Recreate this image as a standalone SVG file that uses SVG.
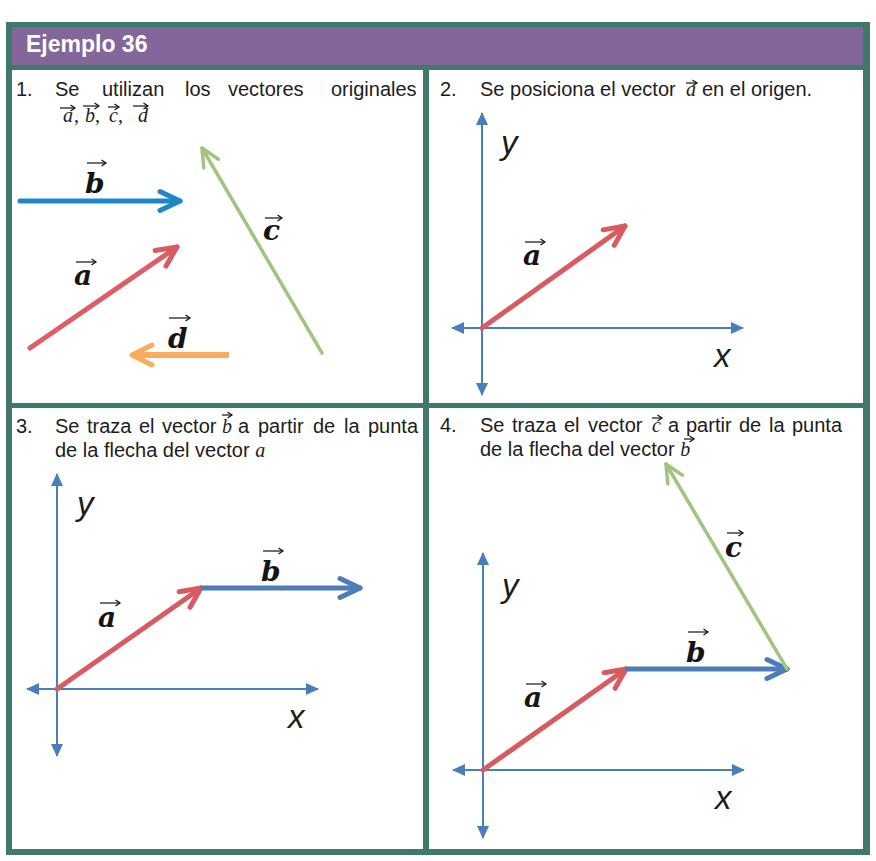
<svg xmlns="http://www.w3.org/2000/svg" width="876" height="861" viewBox="0 0 876 861">
<style>
.t{font-family:"Liberation Sans",Arial,sans-serif;font-size:20px;fill:#1c1c1c}
.m{font-family:"Liberation Serif","Times New Roman",serif;font-style:italic;font-size:20px;fill:#1c1c1c}
.lbl{font-family:"DejaVu Serif",serif;font-weight:bold;font-style:italic;font-size:28px;fill:#141414}
.ax{font-family:"Liberation Sans",Arial,sans-serif;font-style:italic;font-size:33px;fill:#1c1c1c}
.ov{stroke:#111;stroke-width:1.2;fill:none;marker-end:url(#hK)}
.axis{stroke:#4A7EBB;stroke-width:2;fill:none;marker-start:url(#hAx);marker-end:url(#hAx)}
.vr{stroke:#D85B62;stroke-width:5;stroke-linecap:round;fill:none;marker-end:url(#hR)}
.vb{stroke:#4D7DB8;stroke-width:5;stroke-linecap:round;fill:none;marker-end:url(#hB)}
.vg{stroke:#A2C480;stroke-width:3.5;stroke-linecap:round;fill:none;marker-end:url(#hG)}
</style>
<defs>
<marker id="hR" markerUnits="userSpaceOnUse" orient="auto" markerWidth="30" markerHeight="30" refX="0" refY="0" overflow="visible"><path d="M-20,-9.5 L0,0 L-20,9.5" fill="none" stroke="#D85B62" stroke-width="5" stroke-linecap="round" stroke-linejoin="round"/></marker>
<marker id="hB" markerUnits="userSpaceOnUse" orient="auto" markerWidth="30" markerHeight="30" refX="0" refY="0" overflow="visible"><path d="M-20,-9.5 L0,0 L-20,9.5" fill="none" stroke="#4D7DB8" stroke-width="5" stroke-linecap="round" stroke-linejoin="round"/></marker>
<marker id="hB1" markerUnits="userSpaceOnUse" orient="auto" markerWidth="30" markerHeight="30" refX="0" refY="0" overflow="visible"><path d="M-20,-9.5 L0,0 L-20,9.5" fill="none" stroke="#1E87C8" stroke-width="5" stroke-linecap="round" stroke-linejoin="round"/></marker>
<marker id="hG" markerUnits="userSpaceOnUse" orient="auto" markerWidth="30" markerHeight="30" refX="0" refY="0" overflow="visible"><path d="M-18,-8.5 L0,0 L-18,8.5" fill="none" stroke="#A2C480" stroke-width="3.5" stroke-linecap="round" stroke-linejoin="round"/></marker>
<marker id="hO" markerUnits="userSpaceOnUse" orient="auto" markerWidth="30" markerHeight="30" refX="0" refY="0" overflow="visible"><path d="M-20,-10 L0,0 L-20,10" fill="none" stroke="#FBAB5F" stroke-width="5" stroke-linecap="round" stroke-linejoin="round"/></marker>
<marker id="hAx" markerUnits="userSpaceOnUse" orient="auto-start-reverse" markerWidth="20" markerHeight="20" refX="0" refY="0" overflow="visible"><path d="M-12,-6 L1,0 L-12,6 Z" fill="#4A7EBB"/></marker>
<marker id="hK" markerUnits="userSpaceOnUse" orient="auto" markerWidth="10" markerHeight="10" refX="0" refY="0" overflow="visible"><path d="M-4.5,-3 L0,0 L-4.5,3" fill="none" stroke="#111" stroke-width="1.2"/></marker>
</defs>

<g id="frame">
<rect x="6" y="22" width="864" height="833" fill="#40786C"/>
<rect x="12" y="70" width="411" height="333" fill="#ffffff"/>
<rect x="429" y="70" width="434" height="333" fill="#ffffff"/>
<rect x="12" y="408" width="411" height="441" fill="#ffffff"/>
<rect x="429" y="408" width="434" height="441" fill="#ffffff"/>
</g>

<g id="header">
<rect x="12" y="27" width="851" height="38" fill="#84679A"/>
<text x="26" y="52" font-family="Liberation Sans,Arial,sans-serif" font-weight="bold" font-size="23" fill="#ffffff">Ejemplo 36</text>
</g>

<g id="panel1">
<text class="t" y="96"><tspan x="16">1.</tspan><tspan x="55">Se</tspan><tspan x="102">utilizan</tspan><tspan x="185">los</tspan><tspan x="228">vectores</tspan><tspan x="331">originales</tspan></text>
<text class="m" y="122"><tspan x="63">a</tspan><tspan x="74" font-style="normal">,</tspan><tspan x="85">b</tspan><tspan x="95" font-style="normal">,</tspan><tspan x="109">c</tspan><tspan x="118" font-style="normal">,</tspan><tspan x="138">d</tspan></text>
<path class="ov" d="M60,108 H75"/>
<path class="ov" d="M83,106 H99"/>
<path class="ov" d="M108,107 H119"/>
<path class="ov" d="M133,106 H148"/>
<g id="p1-connectors">
<g id="p1-vec-b"><path d="M20,201 H180" stroke="#1E87C8" stroke-width="5" stroke-linecap="round" fill="none" marker-end="url(#hB1)"/></g>
<g id="p1-vec-a"><path d="M30,348 L177,247" stroke="#DD5E66" stroke-width="5" stroke-linecap="round" fill="none" marker-end="url(#hR)"/></g>
<g id="p1-vec-c"><path class="vg" d="M322,353 L202,148"/></g>
<g id="p1-vec-d"><path d="M229,355 H132" stroke="#FBAB5F" stroke-width="6" stroke-linecap="butt" fill="none" marker-end="url(#hO)"/></g>
</g>
<g id="p1-labels">
<text class="lbl" x="85" y="193">b</text><path class="ov" d="M87,163 H106"/>
<text class="lbl" x="74" y="285">a</text><path class="ov" d="M76,262 H96"/>
<text class="lbl" x="263" y="240">c</text><path class="ov" d="M265,218 H282"/>
<text class="lbl" x="168" y="348">d</text><path class="ov" d="M169,318 H190"/>
</g>
</g>

<g id="panel2">
<text class="t" y="96"><tspan x="440">2.</tspan><tspan x="480">Se posiciona el vector</tspan><tspan class="m" x="686">a</tspan><tspan x="702">en el origen.</tspan></text>
<path class="ov" d="M686,83 H697"/>
<g id="p2-connectors">
<g id="p2-axis-y"><path class="axis" d="M482,395 V113"/></g>
<g id="p2-axis-x"><path class="axis" d="M452,328 H743"/></g>
<g id="p2-vec-a"><path class="vr" d="M482,328 L625,226"/></g>
</g>
<text class="ax" x="501" y="154">y</text>
<text class="ax" x="714" y="367">x</text>
<text class="lbl" x="523" y="265">a</text><path class="ov" d="M525,242 H545"/>
</g>

<g id="panel3">
<text class="t" y="433"><tspan x="16">3.</tspan><tspan x="55">Se</tspan><tspan x="87">traza</tspan><tspan x="139">el</tspan><tspan x="162">vector</tspan><tspan class="m" x="222">b</tspan><tspan x="238">a</tspan><tspan x="258">partir</tspan><tspan x="313">de</tspan><tspan x="344">la</tspan><tspan x="368">punta</tspan></text>
<path class="ov" d="M222,415 H232"/>
<text class="t" x="55" y="457">de la flecha del vector <tspan class="m">a</tspan></text>
<g id="p3-connectors">
<g id="p3-axis-y"><path class="axis" d="M57,756 V474"/></g>
<g id="p3-axis-x"><path class="axis" d="M27,689 H318"/></g>
<g id="p3-vec-a"><path class="vr" d="M57,689 L201,588"/></g>
<g id="p3-vec-b"><path class="vb" d="M203,588 H360"/></g>
</g>
<text class="ax" x="77" y="515">y</text>
<text class="ax" x="288" y="728">x</text>
<text class="lbl" x="98" y="627">a</text><path class="ov" d="M100,603 H120"/>
<text class="lbl" x="261" y="581">b</text><path class="ov" d="M263,551 H283"/>
</g>

<g id="panel4">
<text class="t" y="432"><tspan x="440">4.</tspan><tspan x="480">Se</tspan><tspan x="512">traza</tspan><tspan x="564">el</tspan><tspan x="588">vector</tspan><tspan class="m" x="652">c</tspan><tspan x="668">a</tspan><tspan x="686">partir</tspan><tspan x="739">de</tspan><tspan x="769">la</tspan><tspan x="792">punta</tspan></text>
<path class="ov" d="M652,418 H662"/>
<text class="t" x="480" y="456">de la flecha del vector <tspan class="m">b</tspan></text>
<path class="ov" d="M684,439 H694"/>
<g id="p4-connectors">
<g id="p4-axis-y"><path class="axis" d="M483,838 V553"/></g>
<g id="p4-axis-x"><path class="axis" d="M453,770 H744"/></g>
<g id="p4-vec-a"><path class="vr" d="M483,770 L626,669"/></g>
<g id="p4-vec-b"><path class="vb" d="M628,669 H787"/></g>
<g id="p4-vec-c"><path class="vg" d="M787,669 L666,464"/></g>
</g>
<text class="ax" x="502" y="597">y</text>
<text class="ax" x="715" y="809">x</text>
<text class="lbl" x="524" y="707">a</text><path class="ov" d="M526,684 H546"/>
<text class="lbl" x="686" y="662">b</text><path class="ov" d="M688,632 H708"/>
<text class="lbl" x="725" y="557">c</text><path class="ov" d="M727,533 H743"/>
</g>
</svg>
